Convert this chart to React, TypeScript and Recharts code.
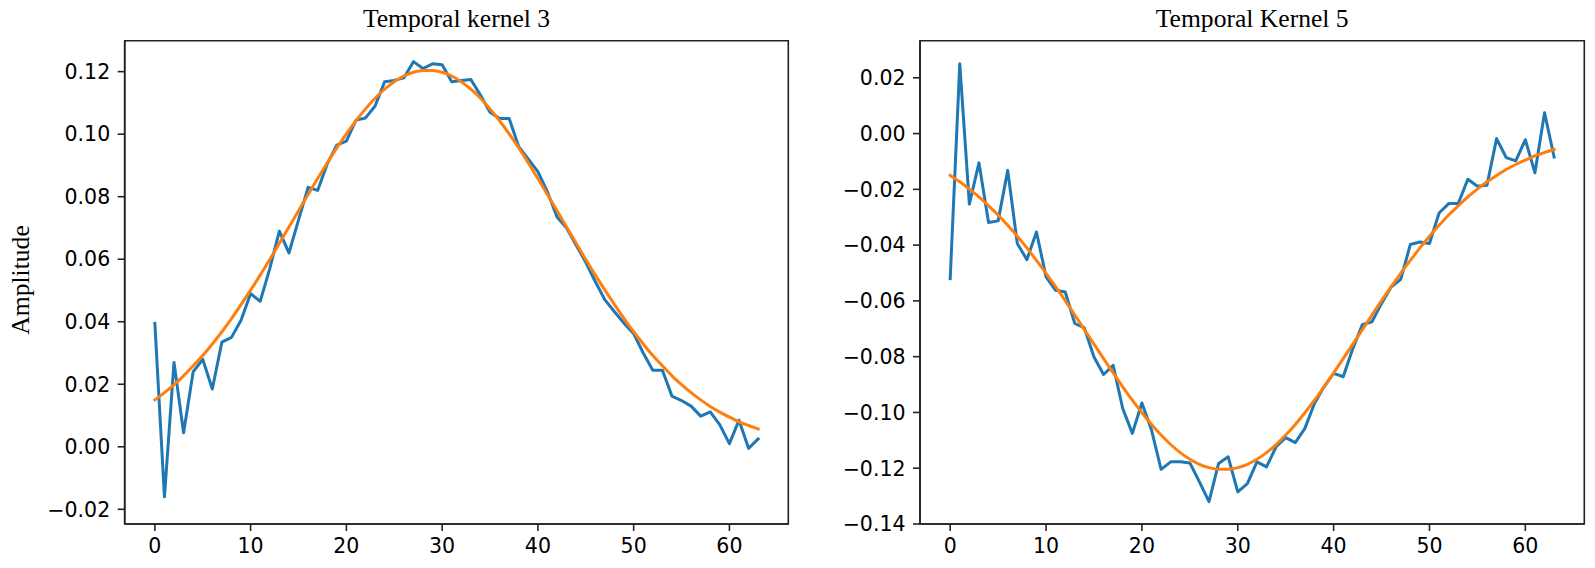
import { LineChart, Line, XAxis, YAxis, ReferenceArea } from "recharts";

// Temporal kernel 3: raw weights and gaussian fit
const kernel3Raw = [
  0.0395, -0.016, 0.027, 0.0045, 0.024, 0.028, 0.0185, 0.0335, 0.035, 0.0405,
  0.049, 0.0465, 0.057, 0.069, 0.062, 0.0725, 0.083, 0.082, 0.0905, 0.0965,
  0.0978, 0.1045, 0.1052, 0.109, 0.1168, 0.1172, 0.118, 0.1232, 0.121, 0.1225,
  0.1222, 0.1168, 0.1172, 0.1175, 0.1125, 0.107, 0.105, 0.105, 0.096, 0.092,
  0.088, 0.0815, 0.0735, 0.07, 0.0645, 0.059, 0.0528, 0.047, 0.0432, 0.0395,
  0.0362, 0.03, 0.0245, 0.0245, 0.0162, 0.0148, 0.013, 0.0098, 0.0112, 0.007,
  0.001, 0.0085, -0.0005, 0.0025,
];
const kernel3Fit = [
  0.015, 0.0173, 0.0199, 0.0227, 0.0259, 0.0292, 0.0329, 0.0368, 0.041, 0.0455,
  0.0501, 0.0549, 0.0599, 0.0651, 0.0703, 0.0755, 0.0807, 0.0858, 0.0908, 0.0956,
  0.1001, 0.1043, 0.1081, 0.1115, 0.1144, 0.1168, 0.1186, 0.1198, 0.1204, 0.1204,
  0.1198, 0.1186, 0.1168, 0.1144, 0.1115, 0.1081, 0.1043, 0.1001, 0.0956, 0.0908,
  0.0858, 0.0807, 0.0755, 0.0703, 0.0651, 0.0599, 0.0549, 0.0501, 0.0455, 0.041,
  0.0368, 0.0329, 0.0292, 0.0259, 0.0227, 0.0199, 0.0173, 0.015, 0.0129, 0.0111,
  0.0095, 0.008, 0.0068, 0.0057,
];

// Temporal kernel 5
const kernel5Raw = [
  -0.052, 0.025, -0.0253, -0.0105, -0.0319, -0.0313, -0.0132, -0.0394, -0.0452, -0.0353,
  -0.0514, -0.0562, -0.0568, -0.0681, -0.0697, -0.0801, -0.0864, -0.0831, -0.0986, -0.1075,
  -0.0966, -0.1063, -0.1204, -0.1177, -0.1177, -0.1181, -0.1249, -0.132, -0.1183, -0.1159,
  -0.1285, -0.1255, -0.1177, -0.1195, -0.1123, -0.109, -0.1108, -0.1057, -0.0968, -0.0908,
  -0.086, -0.0872, -0.0771, -0.0685, -0.0675, -0.0609, -0.055, -0.0523, -0.0398, -0.0389,
  -0.0394, -0.0285, -0.0251, -0.0251, -0.0164, -0.0189, -0.0185, -0.0018, -0.0086, -0.0098,
  -0.0022, -0.0141, 0.0075, -0.0084,
];
const kernel5Fit = [
  -0.015, -0.0173, -0.0199, -0.0227, -0.0259, -0.0292, -0.0329, -0.0368, -0.041, -0.0455,
  -0.0501, -0.0549, -0.0599, -0.0651, -0.0703, -0.0755, -0.0807, -0.0858, -0.0908, -0.0956,
  -0.1001, -0.1043, -0.1081, -0.1115, -0.1144, -0.1168, -0.1186, -0.1198, -0.1204, -0.1204,
  -0.1198, -0.1186, -0.1168, -0.1144, -0.1115, -0.1081, -0.1043, -0.1001, -0.0956, -0.0908,
  -0.0858, -0.0807, -0.0755, -0.0703, -0.0651, -0.0599, -0.0549, -0.0501, -0.0455, -0.041,
  -0.0368, -0.0329, -0.0292, -0.0259, -0.0227, -0.0199, -0.0173, -0.015, -0.0129, -0.0111,
  -0.0095, -0.008, -0.0068, -0.0057,
];

const xTicks = [0, 10, 20, 30, 40, 50, 60];
const kernel3Ticks = [-0.02, 0, 0.02, 0.04, 0.06, 0.08, 0.1, 0.12];
const kernel5Ticks = [-0.14, -0.12, -0.1, -0.08, -0.06, -0.04, -0.02, 0, 0.02];

const BLUE = "#1f77b4";
const ORANGE = "#ff7f0e";
const INK = "#222";
const X_DOMAIN: [number, number] = [-3.15, 66.15];

const fmt = (v: number) => {
  const s = Math.abs(v).toFixed(2);
  return v < -1e-9 ? "\u2212" + s : s;
};

function Panel({
  raw,
  fit,
  yDomain,
  yTicks,
  left,
  width,
  yAxisWidth,
  rightMargin,
}: {
  raw: number[];
  fit: number[];
  yDomain: [number, number];
  yTicks: number[];
  left: number;
  width: number;
  yAxisWidth: number;
  rightMargin: number;
}) {
  const data = raw.map((r, i) => ({ t: i, raw: r, fit: fit[i] }));
  const tickStyle = { fill: "#000", fontSize: 20.5, fontFamily: "DejaVu Sans" };
  return (
    <div style={{ position: "absolute", left, top: 0 }}>
      <LineChart
        width={width}
        height={568}
        data={data}
        margin={{ top: 40.7, right: rightMargin, bottom: 0, left: 0 }}
      >
        <XAxis
          dataKey="t"
          type="number"
          domain={X_DOMAIN}
          ticks={xTicks}
          allowDataOverflow
          height={44}
          tickSize={7}
          tickMargin={7}
          axisLine={{ stroke: INK, strokeWidth: 1.6 }}
          tickLine={{ stroke: INK, strokeWidth: 1.6 }}
          tick={tickStyle}
        />
        <YAxis
          type="number"
          domain={yDomain}
          ticks={yTicks}
          allowDataOverflow
          width={yAxisWidth}
          tickSize={7}
          tickMargin={7.5}
          tickFormatter={fmt}
          axisLine={{ stroke: INK, strokeWidth: 1.6 }}
          tickLine={{ stroke: INK, strokeWidth: 1.6 }}
          tick={tickStyle}
        />
        <Line
          dataKey="raw"
          type="linear"
          stroke={BLUE}
          strokeWidth={3}
          strokeLinejoin="round"
          strokeLinecap="square"
          dot={false}
          isAnimationActive={false}
        />
        <Line
          dataKey="fit"
          type="monotone"
          stroke={ORANGE}
          strokeWidth={3}
          strokeLinejoin="round"
          strokeLinecap="square"
          dot={false}
          isAnimationActive={false}
        />
        <ReferenceArea
          x1={X_DOMAIN[0]}
          x2={X_DOMAIN[1]}
          y1={yDomain[0]}
          y2={yDomain[1]}
          fill="none"
          stroke={INK}
          strokeWidth={1.6}
          ifOverflow="visible"
        />
      </LineChart>
    </div>
  );
}

export default function App() {
  return (
    <div
      style={{
        position: "absolute",
        left: 0,
        top: 0,
        width: 1595,
        height: 568,
        background: "#fff",
        overflow: "hidden",
      }}
    >
      <Panel
        raw={kernel3Raw}
        fit={kernel3Fit}
        yDomain={[-0.0247, 0.1299]}
        yTicks={kernel3Ticks}
        left={0}
        width={800}
        yAxisWidth={124.7}
        rightMargin={11.7}
      />
      <Panel
        raw={kernel5Raw}
        fit={kernel5Fit}
        yDomain={[-0.14, 0.0333]}
        yTicks={kernel5Ticks}
        left={800}
        width={795}
        yAxisWidth={120}
        rightMargin={10.7}
      />
      <svg
        width={1595}
        height={568}
        style={{ position: "absolute", left: 0, top: 0, pointerEvents: "none" }}
      >
        <g fontFamily="Liberation Serif" fontSize={25.6} fill="#000" textAnchor="middle">
          <text x={456.5} y={27.3}>Temporal kernel 3</text>
          <text x={1252.2} y={27.3}>Temporal Kernel 5</text>
          <text x={29} y={280} transform="rotate(-90 29 280)">Amplitude</text>
        </g>
      </svg>
    </div>
  );
}
